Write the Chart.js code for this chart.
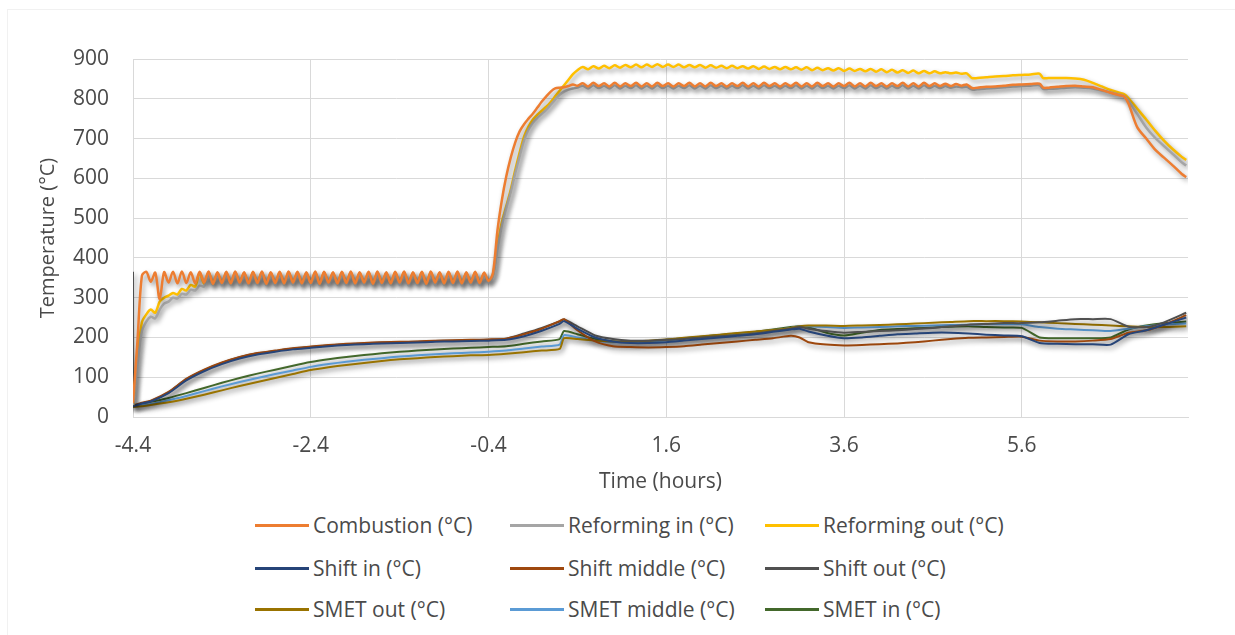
<!DOCTYPE html>
<html>
<head>
<meta charset="utf-8">
<script src="https://cdn.jsdelivr.net/npm/chart.js@4.4.1/dist/chart.umd.min.js"></script>
<style>
  html, body { margin: 0; padding: 0; background: #ffffff; }
  #wrap { position: relative; width: 1235px; height: 635px; overflow: hidden; font-family: "Open Sans", sans-serif; }
  #frame { position: absolute; left: 7px; top: 9px; width: 1240px; height: 640px; border-left: 1px solid #f1f1f1; border-top: 1px solid #f1f1f1; }
  #chart { position: absolute; left: 0; top: 0; }
  .lg { position: absolute; display: flex; align-items: center; height: 30px; color: #4a4a4a; font-size: 21px; white-space: nowrap; }
  .lg .sw { display: inline-block; width: 54px; height: 3px; margin-right: 4px; }
</style>
</head>
<body>
<div id="wrap">
  <div id="frame"></div>
  <canvas id="chart" width="1235" height="500"></canvas>
  <div id="legend"></div>
</div>
<script>
// ---- time stamps (hours) ----
// reactor-side probes: fine sampling through the oscillating stretches
const timeHot = [
  -4.4,-4.35,-4.3,-4.25,-4.2,-4.15,-4.1,-4.05,-4,-3.95,-3.9,-3.85,-3.8,-3.75,-3.7,-3.65,-3.6,-3.55,-3.5,-3.45,
  -3.4,-3.35,-3.3,-3.25,-3.2,-3.15,-3.1,-3.05,-3,-2.95,-2.9,-2.85,-2.8,-2.75,-2.7,-2.65,-2.6,-2.55,-2.5,-2.45,
  -2.4,-2.35,-2.3,-2.25,-2.2,-2.15,-2.1,-2.05,-2,-1.95,-1.9,-1.85,-1.8,-1.75,-1.7,-1.65,-1.6,-1.55,-1.5,-1.45,
  -1.4,-1.35,-1.3,-1.25,-1.2,-1.15,-1.1,-1.05,-1,-0.95,-0.9,-0.85,-0.8,-0.75,-0.7,-0.65,-0.6,-0.55,-0.5,-0.45,
  -0.4,
  -0.35,-0.3,-0.25,-0.2,-0.15,-0.1,-0.05,0,0.05,0.1,0.15,0.2,0.25,0.3,0.35,0.4,0.45,0.5,0.55,0.6,
  0.66,0.72,0.78,0.84,0.9,0.96,1.02,1.08,1.14,1.2,1.26,1.32,1.38,1.44,1.5,1.56,1.62,1.68,1.74,1.8,
  1.86,1.92,1.98,2.04,2.1,2.16,2.22,2.28,2.34,2.4,2.46,2.52,2.58,2.64,2.7,2.76,2.82,2.88,2.94,3,
  3.06,3.12,3.18,3.24,3.3,3.36,3.42,3.48,3.54,3.6,3.66,3.72,3.78,3.84,3.9,3.96,4.02,4.08,4.14,4.2,
  4.26,4.32,4.38,4.44,4.5,4.56,4.62,4.68,4.74,4.8,4.86,4.92,4.98,
  5.04,5.1,5.2,5.3,5.4,5.5,5.6,5.7,5.8,5.84,5.9,6,6.1,6.2,6.3,6.4,6.5,6.6,6.7,6.75,
  6.8,6.9,7,7.1,7.2,7.3,7.4,7.45
];
// shift / methanation probes: coarser sampling
const timeLow = [
  -4.4,-4.39,-4.3,-4.2,-4,-3.8,-3.6,-3.4,-3.2,-3,-2.8,-2.6,-2.4,-2.2,-2,-1.8,-1.6,-1.4,-1.2,-1,
  -0.8,-0.6,-0.4,-0.2,0,0.2,0.4,0.45,0.6,0.8,1,1.2,1.4,1.6,1.8,2,2.2,2.4,2.6,2.8,
  3,3.1,3.2,3.4,3.6,3.8,4,4.2,4.4,4.6,4.8,5,5.2,5.4,5.6,5.8,6,6.2,6.4,6.6,
  6.8,7,7.2,7.45
];

// ---- temperatures (°C) ----
const combustion = [
  35,190,355,365,340,363,296,364,338,365,336,
  366,337,364,336,365,338,366,335,364,337,365,336,366,338,364,336,365,337,366,335,
  364,337,365,336,366,338,365,336,364,337,366,335,365,338,364,336,365,337,366,336,
  364,338,365,335,366,337,364,336,365,338,366,336,364,337,365,335,366,338,364,336,
  365,337,366,336,364,338,365,337,363,342,
  362,468,545,605,652,690,718,736,750,763,778,793,806,818,826,828,829,832,836,833,
  839,831,840,832,839,831,840,831,839,832,840,831,839,831,840,832,839,831,839,832,
  840,831,839,831,840,832,839,831,839,832,840,831,839,831,840,832,839,831,839,832,
  840,831,839,831,840,832,839,831,839,832,840,831,839,831,840,832,839,831,839,832,
  840,831,839,831,840,832,839,832,838,832,837,833,836,
  827,828,830,831,833,835,836,837,838,828,828,830,832,833,831,829,822,815,809,806,
  788,728,700,672,652,632,611,603
];
const reformingIn = [
  30,130,215,240,252,248,270,285,290,300,298,310,308,320,318,330,328,
  358,332,359,331,358,333,360,332,358,331,359,333,360,332,358,331,
  359,333,358,332,360,331,359,333,358,332,360,331,358,333,359,332,
  360,331,358,333,359,332,358,331,360,333,359,332,358,331,360,333,
  358,332,359,331,360,333,358,332,359,331,360,333,358,332,357,338,
  355,420,480,525,565,612,655,695,722,740,752,762,772,785,798,810,818,823,826,828,
  833,826,834,827,833,826,834,826,833,827,834,826,833,826,834,827,833,826,833,827,
  834,826,833,826,834,827,833,826,833,827,834,826,833,826,834,827,833,826,833,827,
  834,826,833,826,834,827,833,826,833,827,834,826,833,826,834,827,833,826,833,827,
  834,826,833,826,834,827,833,827,832,828,831,829,830,
  823,824,826,827,829,831,832,833,834,825,825,826,828,829,828,826,821,816,810,806,
  795,762,728,702,681,661,640,632
];
const reformingOut = [
  30,150,238,258,270,262,290,300,305,312,308,322,318,332,328,
  362,335,364,333,362,335,363,334,364,336,362,334,363,335,364,333,
  362,335,363,334,364,336,363,334,362,335,364,333,363,336,362,334,
  363,335,364,334,362,336,363,333,364,335,362,334,363,336,364,334,
  362,335,363,333,364,336,362,334,363,335,364,334,362,336,363,335,361,340,
  358,430,490,530,571,620,665,705,730,748,760,770,780,792,806,820,834,848,862,872,
  880,874,882,876,883,877,884,878,885,879,886,879,886,880,887,880,886,880,886,879,
  885,879,885,878,884,878,883,877,883,877,882,876,882,875,881,875,880,874,880,874,
  879,873,879,872,878,872,877,871,877,870,876,870,875,869,875,868,874,867,873,866,
  872,865,871,864,870,864,869,864,867,864,866,863,864,
  852,852,854,856,857,859,860,861,863,852,852,852,852,851,848,840,831,822,815,812,
  802,775,748,720,695,673,654,646
];
const shiftIn = [
  26,28,34,39,60,92,115,133,147,157,164,170,174,178,181,183,185,186,187,189,
  190,191,192,194,203,217,234,241,222,200,190,186,186,188,192,196,200,204,208,214,
  220,222,215,205,198,200,204,208,210,212,212,210,207,205,203,186,184,183,183,182,
  208,218,232,250
];
const shiftMiddle = [
  27,29,36,41,63,96,119,137,151,161,167,173,177,181,184,186,188,189,190,192,
  193,194,195,197,208,222,241,246,218,190,178,176,175,176,178,182,186,190,194,198,
  204,200,188,182,180,181,183,185,188,192,196,199,200,201,202,192,190,190,192,196,
  212,218,232,256
];
const shiftOut = [
  365,28,35,40,62,95,118,136,150,160,166,172,176,180,183,185,187,188,189,191,
  192,193,194,197,210,224,240,245,228,205,196,192,192,194,196,200,203,206,210,216,
  222,226,222,216,212,214,216,218,221,224,228,232,234,236,236,238,242,246,246,246,
  227,226,238,262
];
const smetOut = [
  25,25,27,30,37,46,56,67,78,88,98,108,118,125,131,136,141,145,148,151,
  153,155,156,159,163,167,171,198,196,192,190,190,192,195,199,203,207,211,215,219,
  224,228,230,230,229,230,231,233,235,237,239,241,241,241,240,238,236,234,232,230,
  228,226,226,228
];
const smetMiddle = [
  28,28,30,33,42,53,65,77,88,98,108,117,126,133,139,144,148,152,155,158,
  160,162,164,167,172,177,182,206,200,192,188,188,190,193,197,201,205,209,213,218,
  224,228,228,226,224,225,226,228,229,230,231,232,233,233,233,226,222,220,218,216,
  222,228,232,235
];
const smetIn = [
  30,30,33,38,48,60,73,86,98,109,119,129,138,145,151,156,160,164,167,170,
  172,174,176,178,184,190,196,216,208,196,190,188,190,194,198,202,206,210,214,220,
  226,228,226,212,205,212,219,221,223,225,227,228,226,225,224,200,198,198,198,200,
  220,230,236,240
];

// ---- axis ticks ----
const timeTicks = [-4.4, -2.4, -0.4, 1.6, 3.6, 5.6];
const tempTicks = [0, 100, 200, 300, 400, 500, 600, 700, 800, 900];

const seriesNames = [
  'Combustion (°C)', 'Reforming in (°C)', 'Reforming out (°C)',
  'Shift in (°C)', 'Shift middle (°C)', 'Shift out (°C)',
  'SMET out (°C)', 'SMET middle (°C)', 'SMET in (°C)'
];
const seriesColors = [
  '#ED7D31', '#A5A5A5', '#FFC000',
  '#264478', '#9E480E', '#505050',
  '#997300', '#5B9BD5', '#43682B'
];
const seriesValues = [combustion, reformingIn, reformingOut, shiftIn, shiftMiddle, shiftOut, smetOut, smetMiddle, smetIn];
const seriesTimes = [timeHot, timeHot, timeHot, timeLow, timeLow, timeLow, timeLow, timeLow, timeLow];

const FONT = '"Open Sans", sans-serif';
const TEXT = '#4a4a4a';
const GRID = '#d9d9d9';

const datasets = seriesNames.map((name, i) => ({
  label: name,
  data: seriesTimes[i].map((t, k) => ({ x: t, y: seriesValues[i][k] })),
  borderColor: seriesColors[i],
  backgroundColor: seriesColors[i],
  borderWidth: i < 3 ? 2.5 : 2,
  pointRadius: 0,
  tension: i < 3 ? 0.3 : 0.2,
  fill: false
}));

// soft drop shadow under every line
const lineShadow = {
  id: 'lineShadow',
  beforeDatasetDraw(chart) {
    const c = chart.ctx;
    c.save();
    c.shadowColor = 'rgba(0,0,0,0.42)';
    c.shadowBlur = 5;
    c.shadowOffsetX = 2;
    c.shadowOffsetY = 3;
  },
  afterDatasetDraw(chart) {
    chart.ctx.restore();
  }
};

new Chart(document.getElementById('chart'), {
  type: 'line',
  data: { datasets },
  plugins: [lineShadow],
  options: {
    responsive: false,
    animation: false,
    devicePixelRatio: 1,
    layout: { padding: { left: 0, right: 47, top: 59, bottom: 0 } },
    plugins: { legend: { display: false }, tooltip: { enabled: false } },
    scales: {
      x: {
        type: 'linear',
        min: -4.4,
        max: 7.47,
        afterBuildTicks(scale) { scale.ticks = timeTicks.map(v => ({ value: v })); },
        afterFit(scale) { scale.height = 83; },
        ticks: {
          autoSkip: false, maxRotation: 0, padding: 16, color: TEXT,
          font: { family: FONT, size: 21 },
          callback: v => Number(v).toFixed(1)
        },
        grid: { color: GRID, lineWidth: 1, drawTicks: false },
        border: { color: GRID },
        title: {
          display: true, text: 'Time (hours)', color: TEXT,
          font: { family: FONT, size: 21 }, padding: { top: 0, bottom: 5 }
        }
      },
      y: {
        min: 0,
        max: 900,
        afterBuildTicks(scale) { scale.ticks = tempTicks.map(v => ({ value: v })); },
        afterFit(scale) { scale.width = 133; },
        ticks: { padding: 24, color: TEXT, font: { family: FONT, size: 21 } },
        grid: { color: GRID, lineWidth: 1, drawTicks: false },
        border: { display: false },
        title: {
          display: true, text: 'Temperature (°C)', color: TEXT,
          font: { family: FONT, size: 20 }, padding: { top: 36, bottom: 0 }
        }
      }
    }
  }
});

// legend: three columns, three rows
const legendCols = [255, 510, 765];
const legendRows = [525, 568, 609];
const legend = document.getElementById('legend');
seriesNames.forEach((name, i) => {
  const item = document.createElement('div');
  item.className = 'lg';
  item.style.left = legendCols[i % 3] + 'px';
  item.style.top = (legendRows[Math.floor(i / 3)] - 15) + 'px';
  const sw = document.createElement('span');
  sw.className = 'sw';
  sw.style.background = seriesColors[i];
  const tx = document.createElement('span');
  tx.textContent = name;
  item.appendChild(sw);
  item.appendChild(tx);
  legend.appendChild(item);
});
</script>
</body>
</html>
